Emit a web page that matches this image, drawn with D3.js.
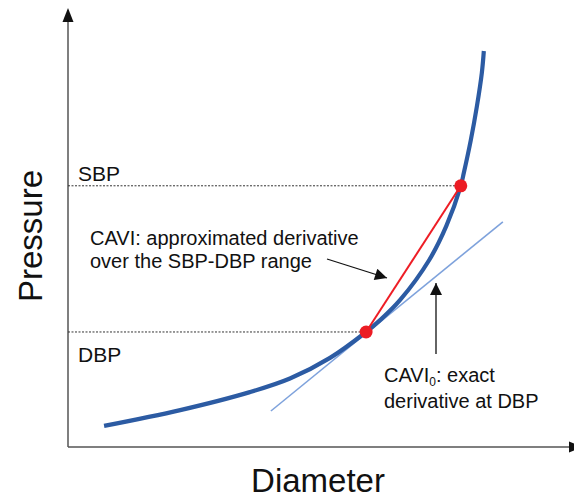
<!DOCTYPE html>
<html><head><meta charset="utf-8">
<script src="https://cdn.jsdelivr.net/npm/d3@7"></script>
<style>
html,body{margin:0;padding:0;background:#fff;}
svg{display:block;font-family:"Liberation Sans",Arial,Helvetica,sans-serif;}
</style></head>
<body>
<svg id="chart" width="574" height="498"></svg>
<script>
// Pressure–diameter curve (arbitrary units, 0–100)
const diameter = [7.2, 22.4, 36.3, 44.3, 52.3, 59.5, 62.3, 66.3, 72.1, 75.5, 78.4, 79.0, 80.4, 81.6, 82.6, 83.0];
const pressure = [4.8, 8.4, 12.5, 15.6, 20.3, 26.2, 28.9, 33.5, 42.6, 50.3, 59.5, 62.4, 69.9, 77.5, 85.2, 90.2];
const pointNames = ["DBP", "SBP"];
const pointDiameter = [59.5, 78.4];
const pointPressure = [26.2, 59.5];
const tangentDiameter = [40.5, 86.8];
const tangentPressure = [8.2, 51.3];

const svg = d3.select("#chart");
const x = d3.scaleLinear().domain([0, 100]).range([68, 569]);
const y = d3.scaleLinear().domain([0, 100]).range([447, 8]);

const axisColor = "#555";
const defs = svg.append("defs");
defs.append("marker").attr("id","ah").attr("viewBox","0 0 10 10").attr("refX",10).attr("refY",5)
  .attr("markerWidth",14).attr("markerHeight",12).attr("markerUnits","userSpaceOnUse").attr("orient","auto")
  .append("path").attr("d","M0,0L10,5L0,10Z").attr("fill","#111");

// axes
svg.append("line").attr("x1", x(0)).attr("y1", y(0)).attr("x2", x(0)).attr("y2", y(100) + 14)
  .attr("stroke", axisColor).attr("stroke-width", 1.5);
svg.append("path").attr("d", `M${x(0)},${y(100)}L${x(0)-5.5},${y(100)+14}L${x(0)+5.5},${y(100)+14}Z`).attr("fill","#111");
svg.append("line").attr("x1", x(0)).attr("y1", y(0)).attr("x2", x(100)).attr("y2", y(0))
  .attr("stroke", axisColor).attr("stroke-width", 1.5);
svg.append("path").attr("d", `M${x(100)+14},${y(0)}L${x(100)},${y(0)-5.5}L${x(100)},${y(0)+5.5}Z`).attr("fill","#111");

// dashed reference lines
svg.selectAll(".ref").data(pointNames).enter().append("line")
  .attr("x1", x(0)).attr("x2", (d,i) => x(pointDiameter[i]))
  .attr("y1", (d,i) => y(pointPressure[i])).attr("y2", (d,i) => y(pointPressure[i]))
  .attr("stroke", "#333").attr("stroke-width", 1).attr("stroke-dasharray", "2,1.5");

// tangent
svg.append("line")
  .attr("x1", x(tangentDiameter[0])).attr("y1", y(tangentPressure[0]))
  .attr("x2", x(tangentDiameter[1])).attr("y2", y(tangentPressure[1]))
  .attr("stroke", "#7ea2dc").attr("stroke-width", 1.6);

// curve
const pts = diameter.map((d,i) => [d, pressure[i]]);
svg.append("path").datum(pts)
  .attr("d", d3.line().x(d => x(d[0])).y(d => y(d[1])).curve(d3.curveCatmullRom.alpha(0.5)))
  .attr("fill","none").attr("stroke","#2c5ba3").attr("stroke-width",4.2).attr("stroke-linecap","butt");

// chord
svg.append("line")
  .attr("x1", x(pointDiameter[0])).attr("y1", y(pointPressure[0]))
  .attr("x2", x(pointDiameter[1])).attr("y2", y(pointPressure[1]))
  .attr("stroke", "#ee1d25").attr("stroke-width", 2);

// points
svg.selectAll(".pt").data(pointNames).enter().append("circle")
  .attr("cx", (d,i) => x(pointDiameter[i])).attr("cy", (d,i) => y(pointPressure[i]))
  .attr("r", 6.5).attr("fill", "#ec1c24");

// labels
svg.append("text").attr("x", 78).attr("y", 181).attr("font-size", 21).attr("fill","#111").text("SBP");
svg.append("text").attr("x", 78).attr("y", 362).attr("font-size", 21).attr("fill","#111").text("DBP");

const ann = svg.append("g").attr("font-size", 20).attr("fill", "#111");
ann.append("text").attr("x", 90).attr("y", 245).text("CAVI: approximated derivative");
ann.append("text").attr("x", 90).attr("y", 268).text("over the SBP-DBP range");
const t1 = ann.append("text").attr("x", 384).attr("y", 382);
t1.append("tspan").text("CAVI");
t1.append("tspan").attr("font-size", 12).attr("dy", 4).text("0");
t1.append("tspan").attr("dy", -4).text(": exact");
ann.append("text").attr("x", 384).attr("y", 408).text("derivative at DBP");

// annotation arrows
svg.append("line").attr("x1", 327).attr("y1", 259).attr("x2", 387).attr("y2", 278)
  .attr("stroke", "#111").attr("stroke-width", 1.3).attr("marker-end", "url(#ah)");
svg.append("line").attr("x1", 436).attr("y1", 354).attr("x2", 436).attr("y2", 283)
  .attr("stroke", "#111").attr("stroke-width", 1.3).attr("marker-end", "url(#ah)");

// axis titles
svg.append("text").attr("transform", "translate(42,236) rotate(-90)").attr("text-anchor","middle")
  .attr("font-size", 33).attr("fill","#111").text("Pressure");
svg.append("text").attr("x", 318).attr("y", 492).attr("text-anchor","middle")
  .attr("font-size", 33).attr("fill","#111").text("Diameter");
</script>
</body></html>
